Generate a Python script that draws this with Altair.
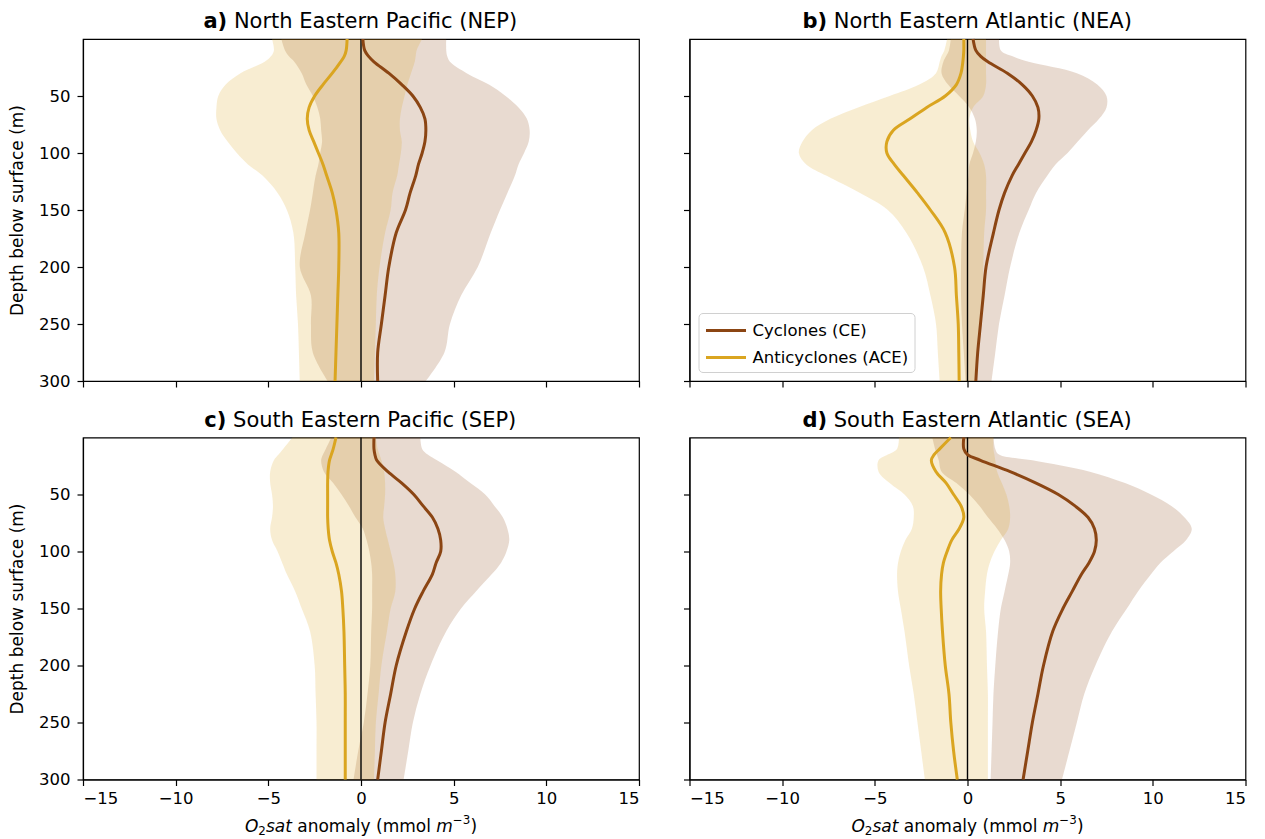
import altair as alt
import pandas as pd

# ---------------- data ----------------
DEPTH = [0, 10, 15, 20, 30, 40, 50, 60, 70, 80, 90, 100, 110, 120, 135, 150, 170, 200, 225, 250, 275, 300]

SERIES = ["Cyclones (CE)", "Anticyclones (ACE)"]
TITLE_PREFIX = ["a)", "b)", "c)", "d)"]
TITLE_TEXT = ["North Eastern Pacific (NEP)", "North Eastern Atlantic (NEA)",
              "South Eastern Pacific (SEP)", "South Eastern Atlantic (SEA)"]
X_TICKS = [-15, -10, -5, 0, 5, 10, 15]
Y_TICKS = [50, 100, 150, 200, 250, 300]
ZERO = [0]
Y_TITLE = "Depth below surface (m)"
# x-axis title pieces: O_2 sat anomaly (mmol m^-3)
XLABEL_PARTS = ["O", "2", "sat", "anomaly (mmol", "m", "\u22123", ")"]

# North Eastern Pacific
NEP_CE_MEAN = [0.1, 0.2, 0.4, 0.7, 1.5, 2.2, 2.8, 3.2, 3.45, 3.5, 3.45, 3.3, 3.1, 2.95, 2.65, 2.4, 1.9, 1.5, 1.3, 1.1, 0.9, 0.9]
NEP_CE_LO = [-4.3, -4.1, -3.9, -3.6, -3.2, -2.95, -2.6, -2.35, -2.2, -2.15, -2.1, -2.2, -2.3, -2.45, -2.6, -2.75, -3.0, -3.3, -2.7, -2.7, -2.6, -1.8]
NEP_CE_HI = [4.6, 4.6, 4.65, 4.8, 5.7, 6.9, 7.8, 8.5, 8.95, 9.1, 9.05, 8.8, 8.5, 8.3, 7.9, 7.5, 7.0, 6.3, 5.4, 4.8, 4.5, 3.5]
NEP_ACE_MEAN = [-0.75, -0.8, -0.9, -1.1, -1.55, -2.05, -2.5, -2.8, -2.9, -2.8, -2.55, -2.3, -2.05, -1.85, -1.55, -1.35, -1.2, -1.2, -1.25, -1.3, -1.35, -1.4]
NEP_ACE_LO = [-4.8, -4.7, -4.85, -5.2, -6.5, -7.3, -7.7, -7.8, -7.8, -7.6, -7.2, -6.7, -6.1, -5.3, -4.5, -4.0, -3.65, -3.55, -3.5, -3.4, -3.35, -3.3]
NEP_ACE_HI = [3.3, 3.0, 2.95, 2.9, 2.7, 2.5, 2.35, 2.2, 2.1, 2.1, 2.2, 2.15, 2.05, 1.95, 1.7, 1.6, 1.3, 1.0, 0.85, 0.8, 0.75, 0.7]

# North Eastern Atlantic
NEA_CE_MEAN = [0.3, 0.45, 0.7, 1.1, 2.15, 2.95, 3.5, 3.8, 3.85, 3.7, 3.45, 3.1, 2.75, 2.4, 2.0, 1.7, 1.4, 1.0, 0.85, 0.7, 0.55, 0.45]
NEA_CE_LO = [-0.9, -1.0, -1.15, -1.3, -1.4, -1.05, -0.45, 0.1, 0.4, 0.5, 0.45, 0.3, 0.1, 0.05, -0.05, -0.15, -0.3, -0.35, -0.35, -0.3, -0.2, -0.1]
NEA_CE_HI = [1.7, 1.8, 2.4, 3.3, 5.9, 7.0, 7.5, 7.5, 7.1, 6.5, 5.95, 5.4, 4.75, 4.3, 3.7, 3.3, 2.8, 2.3, 2.0, 1.7, 1.5, 1.3]
NEA_ACE_MEAN = [-0.2, -0.2, -0.22, -0.25, -0.35, -0.6, -1.2, -2.2, -3.1, -4.0, -4.35, -4.35, -3.95, -3.45, -2.7, -2.0, -1.2, -0.7, -0.6, -0.5, -0.47, -0.45]
NEA_ACE_LO = [-1.1, -1.25, -1.4, -1.5, -1.7, -2.6, -4.2, -5.9, -7.4, -8.4, -8.9, -9.1, -8.7, -7.6, -5.8, -4.3, -3.3, -2.4, -2.0, -1.7, -1.6, -1.5]
NEA_ACE_HI = [1.0, 1.0, 1.0, 1.0, 1.0, 1.0, 0.85, 0.3, 0.1, 0.15, 0.3, 0.65, 0.9, 1.0, 1.0, 1.0, 0.9, 0.85, 0.8, 0.75, 0.6, 0.5]

# South Eastern Pacific
SEP_CE_MEAN = [0.7, 0.7, 0.75, 0.85, 1.45, 2.2, 2.85, 3.35, 3.85, 4.15, 4.3, 4.3, 4.05, 3.85, 3.35, 2.9, 2.45, 1.9, 1.6, 1.3, 1.1, 0.9]
SEP_CE_LO = [-1.6, -1.9, -2.05, -2.15, -2.0, -1.5, -1.05, -0.65, -0.3, 0.1, 0.3, 0.45, 0.55, 0.6, 0.6, 0.6, 0.55, 0.5, 0.35, 0.15, -0.15, -0.4]
SEP_CE_HI = [3.2, 3.3, 3.6, 4.1, 5.1, 5.9, 6.7, 7.2, 7.65, 7.9, 8.0, 7.85, 7.55, 7.05, 6.2, 5.4, 4.6, 3.75, 3.2, 2.8, 2.55, 2.3]
SEP_ACE_MEAN = [-1.35, -1.5, -1.6, -1.7, -1.78, -1.8, -1.8, -1.8, -1.8, -1.77, -1.7, -1.55, -1.35, -1.2, -1.05, -0.98, -0.92, -0.88, -0.85, -0.85, -0.85, -0.85]
SEP_ACE_LO = [-3.7, -4.2, -4.45, -4.7, -4.9, -4.9, -4.8, -4.75, -4.8, -4.9, -4.8, -4.5, -4.25, -4.0, -3.55, -3.2, -2.75, -2.5, -2.45, -2.4, -2.4, -2.4]
SEP_ACE_HI = [0.8, 0.9, 1.0, 1.1, 1.25, 1.3, 1.3, 1.25, 1.2, 1.3, 1.45, 1.6, 1.75, 1.85, 1.85, 1.6, 1.4, 1.1, 0.95, 0.8, 0.75, 0.7]

# South Eastern Atlantic
SEA_CE_MEAN = [-0.2, -0.2, 0.0, 0.7, 2.3, 3.7, 4.9, 5.8, 6.5, 6.85, 6.95, 6.85, 6.55, 6.15, 5.65, 5.15, 4.6, 4.1, 3.8, 3.5, 3.25, 3.0]
SEA_CE_LO = [-1.9, -1.75, -1.65, -1.55, -1.4, -0.6, 0.1, 0.65, 1.1, 1.6, 2.0, 2.25, 2.3, 2.2, 2.0, 1.8, 1.65, 1.5, 1.4, 1.35, 1.3, 1.25]
SEA_CE_HI = [1.4, 1.5, 1.7, 3.5, 6.6, 8.5, 9.9, 11.0, 11.7, 12.1, 11.8, 11.1, 10.4, 9.9, 9.2, 8.6, 7.8, 6.9, 6.3, 5.9, 5.5, 5.1]
SEA_ACE_MEAN = [-0.9, -1.5, -1.8, -1.95, -1.7, -1.15, -0.75, -0.35, -0.2, -0.45, -0.85, -1.1, -1.3, -1.4, -1.45, -1.42, -1.35, -1.2, -1.0, -0.9, -0.75, -0.55]
SEA_ACE_LO = [-3.7, -3.8, -4.3, -4.8, -4.8, -4.2, -3.4, -2.95, -2.9, -3.0, -3.35, -3.6, -3.75, -3.8, -3.75, -3.6, -3.4, -3.15, -2.9, -2.7, -2.5, -2.3]
SEA_ACE_HI = [1.4, 1.4, 1.45, 1.5, 1.6, 1.85, 2.1, 2.25, 2.3, 2.2, 1.8, 1.45, 1.2, 1.05, 0.95, 0.9, 1.0, 1.05, 1.1, 1.1, 1.1, 1.1]

# ---------------- style ----------------
CE_COLOR = "#8B4513"
ACE_COLOR = "#DAA520"
FONT = "DejaVu Sans"
PW, PH = 556, 342
TITLE_FS = 21
TICK_FS = 16.5
LABEL_FS = 17

# DejaVu Sans advance widths (em)
W = {' ': 0.318, '(': 0.390, ')': 0.390, 'A': 0.684, 'C': 0.698, 'E': 0.632, 'N': 0.748,
     'P': 0.603, 'S': 0.635, 'O': 0.787, 'a': 0.613, 'c': 0.550, 'e': 0.615, 'f': 0.352,
     'h': 0.634, 'i': 0.278, 'l': 0.278, 'm': 0.974, 'n': 0.634, 'o': 0.612, 'r': 0.411,
     's': 0.521, 't': 0.392, 'u': 0.634, 'y': 0.592, '2': 0.636, '3': 0.636, '\u2212': 0.838}
WB = {'a': 0.675, 'b': 0.716, 'c': 0.593, 'd': 0.716, ')': 0.457}


def text_w(s, table, fs):
    return sum(table.get(ch, 0.6) for ch in s) * fs


xs = alt.Scale(domain=[-15, 15], nice=False, zero=False)
ys = alt.Scale(domain=[0, 300], reverse=True, nice=False, zero=False)
color_scale = alt.Scale(domain=SERIES, range=[CE_COLOR, ACE_COLOR])


def text_layer(txt, x, y, align="left", weight="normal", style="normal", size=TICK_FS):
    return alt.Chart(pd.DataFrame({"t": [txt]})).mark_text(
        align=align, baseline="alphabetic", font=FONT, fontSize=size,
        fontWeight=weight, fontStyle=style, color="black"
    ).encode(text="t:N", x=alt.value(x), y=alt.value(y))


def make_panel(i, ce_mean, ce_lo, ce_hi, ace_mean, ace_lo, ace_hi, bottom, left, legend=False):
    n = len(DEPTH)
    band_ce = pd.DataFrame({"depth": DEPTH, "lo": ce_lo, "hi": ce_hi})
    band_ace = pd.DataFrame({"depth": DEPTH, "lo": ace_lo, "hi": ace_hi})
    lines = pd.DataFrame({"depth": DEPTH + DEPTH, "value": ce_mean + ace_mean,
                          "series": [SERIES[0]] * n + [SERIES[1]] * n})

    xaxis = alt.Axis(values=X_TICKS, labels=bottom, title=None, grid=False, tickSize=6,
                     labelPadding=5, labelFontSize=TICK_FS)
    yaxis = alt.Axis(values=Y_TICKS, labels=left, title=Y_TITLE if left else None,
                     grid=False, tickSize=6, labelPadding=7, labelFontSize=TICK_FS,
                     titleFontSize=LABEL_FS, titlePadding=12, titleFontWeight="normal")

    a1 = alt.Chart(band_ce).mark_area(color=CE_COLOR, opacity=0.2, interpolate="catmull-rom").encode(
        x=alt.X("lo:Q", scale=xs, axis=xaxis), x2="hi:Q",
        y=alt.Y("depth:Q", scale=ys, axis=yaxis))
    a2 = alt.Chart(band_ace).mark_area(color=ACE_COLOR, opacity=0.2, interpolate="catmull-rom").encode(
        x=alt.X("lo:Q", scale=xs), x2="hi:Q", y=alt.Y("depth:Q", scale=ys))
    zero = alt.Chart(pd.DataFrame({"x": ZERO})).mark_rule(color="black", strokeWidth=1.4).encode(
        x=alt.X("x:Q", scale=xs))
    if legend:
        leg = alt.Legend(title=None, orient="bottom-left", offset=9,
                         symbolType="M-2,0H2", symbolSize=400, symbolStrokeWidth=3,
                         symbolOffset=10, labelOffset=15,
                         labelFontSize=TICK_FS, labelFont=FONT, labelColor="black",
                         padding=6, strokeColor="#d0d0d0", fillColor="white",
                         cornerRadius=4, rowPadding=7, labelLimit=400)
    else:
        leg = None
    ln = alt.Chart(lines).mark_line(strokeWidth=3, interpolate="catmull-rom").encode(
        x=alt.X("value:Q", scale=xs), y=alt.Y("depth:Q", scale=ys),
        color=alt.Color("series:N", scale=color_scale, legend=leg),
        order=alt.Order("depth:Q"))

    # title: bold prefix + normal text, centred over the panel
    pre, rest = TITLE_PREFIX[i], TITLE_TEXT[i]
    wb = text_w(pre, WB, TITLE_FS)
    ws = 0.318 * TITLE_FS
    wr = text_w(rest, W, TITLE_FS)
    start = PW / 2 - (wb + ws + wr) / 2
    t1 = text_layer(pre, start, -10.6, weight="bold", size=TITLE_FS)
    t2 = text_layer(rest, start + wb + ws, -10.6, size=TITLE_FS)

    layers = [a1, a2, zero, ln, t1, t2]

    if bottom:
        fs = LABEL_FS
        sub = 0.7 * fs
        parts = [  # text, style, size, dy, advance before next
            (XLABEL_PARTS[0], "italic", fs, 0, W['O'] * fs),
            (XLABEL_PARTS[1], "normal", sub, 0.22 * fs, W['2'] * sub),
            (XLABEL_PARTS[2], "italic", fs, 0, text_w("sat", W, fs) + W[' '] * fs),
            (XLABEL_PARTS[3], "normal", fs, 0, text_w("anomaly (mmol", W, fs) + W[' '] * fs),
            (XLABEL_PARTS[4], "italic", fs, 0, W['m'] * fs),
            (XLABEL_PARTS[5], "normal", sub, -0.42 * fs, text_w("\u22123", W, sub)),
            (XLABEL_PARTS[6], "normal", fs, 0, W[')'] * fs),
        ]
        total = sum(p[4] for p in parts)
        x = PW / 2 - total / 2
        base_y = PH + 52
        for txt, style, size, dy, adv in parts:
            layers.append(text_layer(txt, x, base_y + dy, style=style, size=size))
            x += adv

    return alt.layer(*layers).properties(width=PW, height=PH)


pa = make_panel(0, NEP_CE_MEAN, NEP_CE_LO, NEP_CE_HI, NEP_ACE_MEAN, NEP_ACE_LO, NEP_ACE_HI, False, True)
pb = make_panel(1, NEA_CE_MEAN, NEA_CE_LO, NEA_CE_HI, NEA_ACE_MEAN, NEA_ACE_LO, NEA_ACE_HI, False, False, legend=True)
pc = make_panel(2, SEP_CE_MEAN, SEP_CE_LO, SEP_CE_HI, SEP_ACE_MEAN, SEP_ACE_LO, SEP_ACE_HI, True, True)
pd_ = make_panel(3, SEA_CE_MEAN, SEA_CE_LO, SEA_CE_HI, SEA_ACE_MEAN, SEA_ACE_LO, SEA_ACE_HI, True, False)

chart = alt.concat(pa, pb, pc, pd_, columns=2, spacing={"row": 56.5, "column": 50.5},
                   bounds="flush").resolve_scale(color="independent").resolve_legend(
    color="independent").properties(
    padding={"left": 7, "top": 10, "right": 10, "bottom": 10},
    background="white"
).configure_view(stroke="black", strokeWidth=1.2).configure_axis(
    domainColor="black", tickColor="black", labelColor="black", titleColor="black",
    labelFont=FONT, titleFont=FONT, domainWidth=1.2, tickWidth=1.2, grid=False)

chart.save("out.html", embed_options={"renderer": "svg", "actions": False})
